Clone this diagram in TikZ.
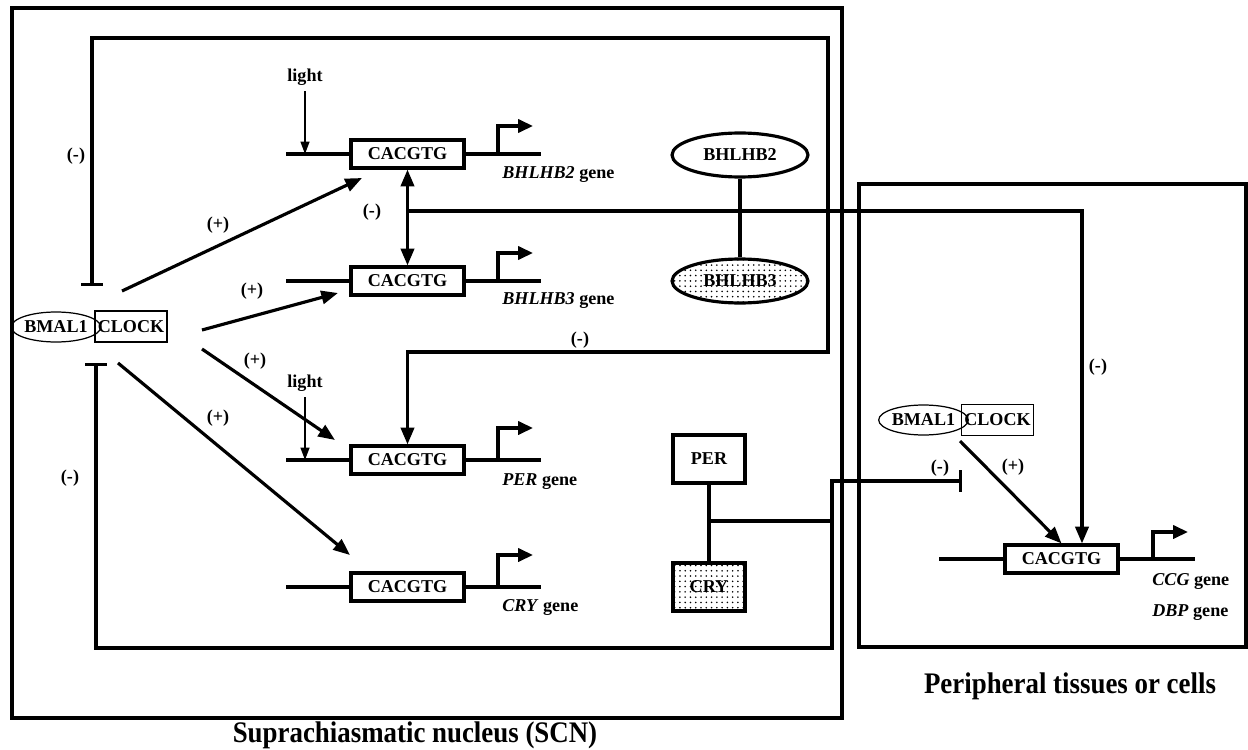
\documentclass[tikz,border=0pt]{standalone}
\usepackage{fontspec}
\usepackage{graphicx}
\setmainfont{Liberation Serif}
\usetikzlibrary{arrows.meta,patterns,shapes.geometric}

\begin{document}
\begin{tikzpicture}[x=0.02cm,y=-0.02cm,
  every node/.style={font=\fontsize{10.3}{12}\selectfont\bfseries},
  thickline/.style={line width=1.8pt},
  act/.style={thickline,-{Triangle[length=9.5pt,width=7.5pt]}},
  lightarr/.style={line width=1pt,-{Triangle[length=7pt,width=5pt]}},
  promoter/.style={thickline,-{Triangle[length=8.5pt,width=7.5pt]}},
  site/.style={draw,line width=1.8pt,fill=white,minimum width=2.26cm,minimum height=0.56cm,inner sep=0pt},
  protbox/.style={draw,line width=1.8pt,fill=white,minimum width=1.44cm,minimum height=0.96cm,inner sep=0pt},
  protoval/.style={draw,ellipse,line width=1.8pt,fill=white,minimum width=2.72cm,minimum height=0.88cm,inner sep=0pt},
  bmaloval/.style={draw,ellipse,line width=0.7pt,minimum width=1.54cm,minimum height=0.6cm,inner sep=0pt},
  clockbox/.style={draw,line width=0.7pt,minimum width=1.44cm,minimum height=0.62cm,inner sep=0pt},
  genelabel/.style={anchor=west,inner sep=0pt},
  title/.style={font=\fontsize{17}{20}\selectfont\bfseries}]
  \useasboundingbox (0,0) rectangle (1248,750);

  % Frames
  \draw[thickline] (12,8) rectangle (842,718);
  \draw[thickline] (859,184) rectangle (1246,647);
  \node[title] (scnlabel) at (415,735) {\scalebox{0.9}[1]{Suprachiasmatic nucleus (SCN)}};
  \node[title] (perilabel) at (1070,686) {\scalebox{0.9}[1]{Peripheral tissues or cells}};

  % BMAL1/CLOCK in the SCN
  \node[bmaloval] (bmal) at (56,327) {BMAL1};
  \node[clockbox] (clock) at (131,326.5) {CLOCK};

  % BHLHB2 gene
  \node[site] (b2site) at (407.5,154) {CACGTG};
  \coordinate (b2l) at (286,154);
  \coordinate (b2r) at (541,154);
  \coordinate (b2tss) at (498,154);
  \draw[thickline] (b2l) -- (b2site) -- (b2r);
  \draw[promoter] (b2tss) -- ++(0,-28) -- ++(35,0);
  \node[genelabel] (b2gene) at (502,175) {\textit{BHLHB2} gene};
  \node (light1) at (305,77) {light};
  \draw[lightarr] (light1) -- (light1 |- b2site);

  % BHLHB3 gene
  \node[site] (b3site) at (407.5,281) {CACGTG};
  \coordinate (b3l) at (286,281);
  \coordinate (b3r) at (541,281);
  \coordinate (b3tss) at (498,281);
  \draw[thickline] (b3l) -- (b3site) -- (b3r);
  \draw[promoter] (b3tss) -- ++(0,-28) -- ++(35,0);
  \node[genelabel] (b3gene) at (502,301) {\textit{BHLHB3} gene};

  % PER gene
  \node[site] (persite) at (407.5,460) {CACGTG};
  \coordinate (perl) at (286,460);
  \coordinate (perr) at (541,460);
  \coordinate (pertss) at (498,460);
  \draw[thickline] (perl) -- (persite) -- (perr);
  \draw[promoter] (pertss) -- ++(0,-32) -- ++(35,0);
  \node[genelabel] (pergene) at (502,482) {\textit{PER} gene};
  \node (light2) at (305,383) {light};
  \draw[lightarr] (light2) -- (light2 |- persite);

  % CRY gene
  \node[site] (crysite) at (407.5,587) {CACGTG};
  \coordinate (cryl) at (286,587);
  \coordinate (cryr) at (541,587);
  \coordinate (crytss) at (498,587);
  \draw[thickline] (cryl) -- (crysite) -- (cryr);
  \draw[promoter] (crytss) -- ++(0,-32) -- ++(35,0);
  \node[genelabel] (crygene) at (502,608) {\textit{CRY} gene};

  % Proteins
  \node[protoval] (bhlhb2) at (740,155) {BHLHB2};
  \node[protoval,pattern=dots] (bhlhb3) at (740,281) {BHLHB3};
  \draw[thickline] (bhlhb2) -- (bhlhb3);
  \node[protbox] (per) at (709,459) {PER};
  \node[protbox,pattern=dots] (cry) at (709,587) {CRY};
  \draw[thickline] (per) -- (cry);

  % Activation by BMAL1/CLOCK
  \coordinate (out1) at (122,291);
  \coordinate (out2) at (202,330);
  \coordinate (out3) at (202,349);
  \coordinate (out4) at (118,363);
  \draw[act] (out1) -- (362,178);
  \draw[act] (out2) -- (338,293);
  \draw[act] (out3) -- (335,440);
  \draw[act] (out4) -- (350,555);
  \node (plus1) at (218,225) {(+)};
  \node (plus2) at (252,291) {(+)};
  \node (plus3) at (255,361) {(+)};
  \node (plus4) at (218,418) {(+)};

  % BHLHB2 <-> BHLHB3 and feedback to periphery
  \draw[thickline,{Triangle[length=9.5pt,width=7.5pt]}-{Triangle[length=9.5pt,width=7.5pt]}] (b2site) -- (b3site);
  \coordinate (junc) at (407.5,211);
  \coordinate (feedtop) at (1082,211);
  \node (minus1) at (372,212) {(-)};

  % Upper loop
  \coordinate (bar1) at (92,286);
  \coordinate (loopnw) at (92,38);
  \coordinate (loopne) at (828,38);
  \coordinate (loopse) at (828,352);
  \draw[thickline,{Bar[width=12.5pt]}-{Triangle[length=9.5pt,width=7.5pt]}]
    (bar1) -- (loopnw) -- (loopne) -- (loopse) -- (loopse -| persite) -- (persite);
  \node (minus2) at (76,156) {(-)};
  \node (minus3) at (580,340) {(-)};

  % Lower loop (PER/CRY)
  \coordinate (bar2) at (96,363);
  \coordinate (loopsw) at (96,648);
  \coordinate (loopbr) at (832,648);
  \coordinate (looptr) at (832,481);
  \coordinate (bar3) at (962,481);
  \coordinate (pcjunc) at (709,521);
  \draw[thickline,{Bar[width=12.5pt]}-{Bar[width=12.5pt]}]
    (bar2) -- (loopsw) -- (loopbr) -- (looptr) -- (bar3);
  \draw[thickline] (pcjunc) -- (pcjunc -| looptr);
  \node (minus4) at (70,478) {(-)};

  % Periphery
  \node[bmaloval] (pbmal) at (923.5,420) {BMAL1};
  \node[clockbox] (pclock) at (997.5,420) {CLOCK};
  \node[site] (ccgsite) at (1061.5,559) {CACGTG};
  \coordinate (ccgl) at (939,559);
  \coordinate (ccgr) at (1195,559);
  \coordinate (ccgtss) at (1153,559);
  \draw[thickline] (ccgl) -- (ccgsite) -- (ccgr);
  \draw[promoter] (ccgtss) -- ++(0,-27) -- ++(35,0);
  \node[genelabel] (ccggene) at (1152,582) {\textit{CCG} gene};
  \node[genelabel] (dbpgene) at (1152,613) {\textit{DBP} gene};
  \coordinate (pout) at (960,441);
  \draw[act] (pout) -- (ccgsite.north);
  \draw[act] (junc) -- (feedtop) -- (feedtop |- ccgsite.north);
  \node (plus5) at (1013,467) {(+)};
  \node (minus5) at (940,468) {(-)};
  \node (minus6) at (1098,367) {(-)};
\end{tikzpicture}
\end{document}
